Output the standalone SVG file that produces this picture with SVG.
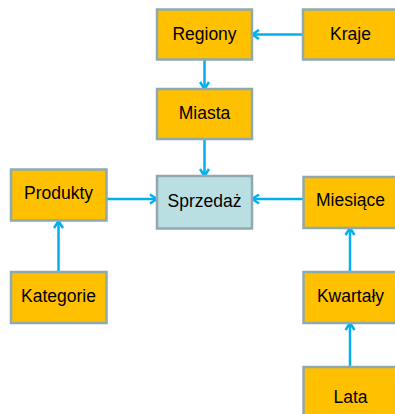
<svg xmlns="http://www.w3.org/2000/svg" width="395" height="414" viewBox="0 0 395 414">
  <style>
    .box { fill: #FFC000; stroke: #8EA9B0; stroke-width: 2.5; }
    .fact { fill: #BADFE3; stroke: #8EA9B0; stroke-width: 2.5; }
    .lbl { font-family: "Liberation Sans", Arial, sans-serif; font-size: 17.5px; fill: #000; text-anchor: middle; dominant-baseline: central; }
    .edge { stroke: #00B0F0; stroke-width: 2.5; fill: none; marker-end: url(#arrow); }
  </style>
  <defs>
    <marker id="arrow" viewBox="0 0 12 12" refX="11" refY="6" markerWidth="12" markerHeight="12" markerUnits="userSpaceOnUse" orient="auto">
      <path d="M4,1.5 L11,6 L4,10.5" fill="none" stroke="#00B0F0" stroke-width="2.5"/>
    </marker>
  </defs>

  <g id="connectors">
    <line class="edge" x1="303" y1="34.5" x2="252" y2="34.5"/>
    <line class="edge" x1="204.5" y1="60" x2="204.5" y2="89"/>
    <line class="edge" x1="204.5" y1="139" x2="204.5" y2="176"/>
    <line class="edge" x1="107" y1="199" x2="157" y2="199"/>
    <line class="edge" x1="303" y1="199" x2="252" y2="199"/>
    <line class="edge" x1="58.5" y1="272" x2="58.5" y2="221"/>
    <line class="edge" x1="350" y1="272" x2="350" y2="228"/>
    <line class="edge" x1="350" y1="367" x2="350" y2="323"/>
  </g>

  <g id="regiony">
    <rect class="box" x="157" y="9.5" width="95" height="50"/>
    <text class="lbl" x="204.5" y="33.5">Regiony</text>
  </g>
  <g id="kraje">
    <rect class="box" x="303" y="9.5" width="95" height="50"/>
    <text class="lbl" x="350.5" y="33.5">Kraje</text>
  </g>
  <g id="miasta">
    <rect class="box" x="157" y="89" width="95" height="50"/>
    <text class="lbl" x="204.5" y="113">Miasta</text>
  </g>
  <g id="sprzedaz">
    <rect class="fact" x="157" y="176" width="95" height="52.5"/>
    <text class="lbl" x="204.5" y="200.5">Sprzedaż</text>
  </g>
  <g id="produkty">
    <rect class="box" x="11" y="169.5" width="95.5" height="51"/>
    <text class="lbl" x="58.5" y="193">Produkty</text>
  </g>
  <g id="miesiace">
    <rect class="box" x="303.5" y="177" width="95" height="51"/>
    <text class="lbl" x="350.5" y="200">Miesiące</text>
  </g>
  <g id="kategorie">
    <rect class="box" x="11" y="272" width="95.5" height="51"/>
    <text class="lbl" x="58.5" y="295.5">Kategorie</text>
  </g>
  <g id="kwartaly">
    <rect class="box" x="303.5" y="272" width="95" height="51"/>
    <text class="lbl" x="350.5" y="295.5">Kwartały</text>
  </g>
  <g id="lata">
    <rect class="box" x="303.5" y="367" width="95" height="51"/>
    <text class="lbl" x="350.5" y="397">Lata</text>
  </g>
</svg>
